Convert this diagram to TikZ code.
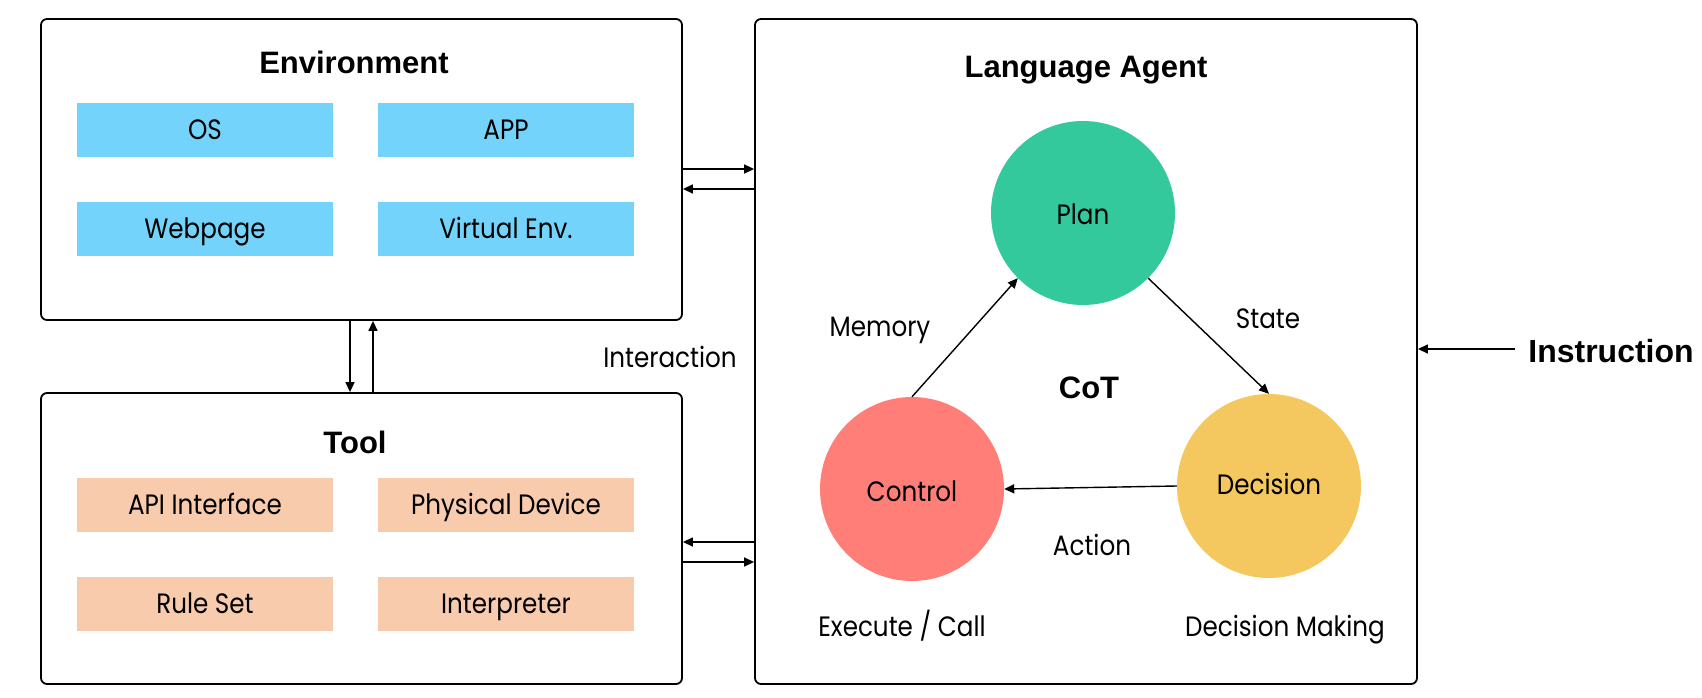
\documentclass[tikz,border=0pt]{standalone}
\usepackage{fontspec}
\setmainfont[FakeStretch=0.88]{Poppins}
\newfontfamily\titlefont{Liberation Sans}
\usetikzlibrary{arrows.meta}
\definecolor{envblue}{RGB}{115,211,250}
\definecolor{toolpeach}{RGB}{247,203,172}
\definecolor{plangreen}{RGB}{52,201,157}
\definecolor{ctrlred}{RGB}{255,127,120}
\definecolor{decyellow}{RGB}{245,200,95}
\tikzset{
  panel/.style={draw=black, line width=1.8pt, rounded corners=6pt, fill=white},
  item/.style={inner sep=0pt, minimum width=256pt, minimum height=54pt, text height=19.6pt, text depth=0pt, font=\fontsize{28}{31}\selectfont},
  ttl/.style={font=\titlefont\bfseries\fontsize{31}{34}\selectfont, inner sep=0pt, text height=22.2pt, text depth=0pt},
  lbl/.style={font=\fontsize{28}{31}\selectfont, inner sep=0pt, text height=19.6pt, text depth=0pt},
  blob/.style={circle, minimum size=184pt, inner sep=0pt},
  arr/.style={line width=1.4pt, -{Triangle[length=10pt,width=9pt]}},
}
\begin{document}
\begin{tikzpicture}[x=1pt,y=-1pt]
\useasboundingbox (0,0) rectangle (1702,698);
% panels
\node[panel, minimum width=641pt, minimum height=301pt, inner sep=0pt] (env) at (361.5,169.5) {};
\node[panel, minimum width=641pt, minimum height=291pt, inner sep=0pt] (tool) at (361.5,538.5) {};
\node[panel, minimum width=662pt, minimum height=665pt, inner sep=0pt] (agent) at (1086,351.5) {};
% titles
\node[ttl] (envt) at (354,62) {Environment};
\node[ttl] (toolt) at (355,442) {Tool};
\node[ttl] (agentt) at (1086,66) {Language Agent};
\node[ttl] (cot) at (1089,387) {CoT};
\node[ttl, font=\titlefont\bfseries\fontsize{32}{35}\selectfont, text height=23pt] (instr) at (1611,351) {Instruction};
% env items
\node[item, fill=envblue] (os) at (205,130) {OS};
\node[item, fill=envblue] (app) at (506,130) {APP};
\node[item, fill=envblue] (web) at (205,229) {Webpage};
\node[item, fill=envblue] (venv) at (506,229) {Virtual Env.};
% tool items
\node[item, fill=toolpeach] (api) at (205,505) {API Interface};
\node[item, fill=toolpeach] (phys) at (506,505) {Physical Device};
\node[item, fill=toolpeach] (rule) at (205,604) {Rule Set};
\node[item, fill=toolpeach] (interp) at (506,604) {Interpreter};
% circles
\node[blob, fill=plangreen] (plan) at (1083,213) {};
\node[lbl] at (1083,215) {Plan};
\node[blob, fill=decyellow] (dec) at (1269,486) {};
\node[lbl] at (1269,485) {Decision};
\node[blob, fill=ctrlred] (ctrl) at (912,489) {};
\node[lbl] at (912,492) {Control};
% labels
\node[lbl] (mem) at (880,327) {Memory};
\node[lbl] (state) at (1268,319) {State};
\node[lbl] (act) at (1092,546) {Action};
\node[lbl] (exec) at (902,627) {Execute / Call};
\node[lbl] (dmak) at (1285,627) {Decision Making};
\node[lbl] (inter) at (670,358) {Interaction};
% cycle arrows
\draw[arr] (ctrl.north) -- (plan.225);
\draw[arr] (plan.-45) -- (dec.north);
\draw[arr] (dec.west) -- (ctrl.east);
% env <-> agent
\draw[arr] (env.east |- 0,169) -- (agent.west |- 0,169);
\draw[arr] (agent.west |- 0,189) -- (env.east |- 0,189);
% env <-> tool
\draw[arr] (env.south -| 350,0) -- (tool.north -| 350,0);
\draw[arr] (tool.north -| 373,0) -- (env.south -| 373,0);
% tool <-> agent
\draw[arr] (agent.west |- 0,542) -- (tool.east |- 0,542);
\draw[arr] (tool.east |- 0,562) -- (agent.west |- 0,562);
% instruction
\draw[arr] (instr.west |- 0,349) ++(-13,0) -- (agent.east |- 0,349);
\end{tikzpicture}
\end{document}
